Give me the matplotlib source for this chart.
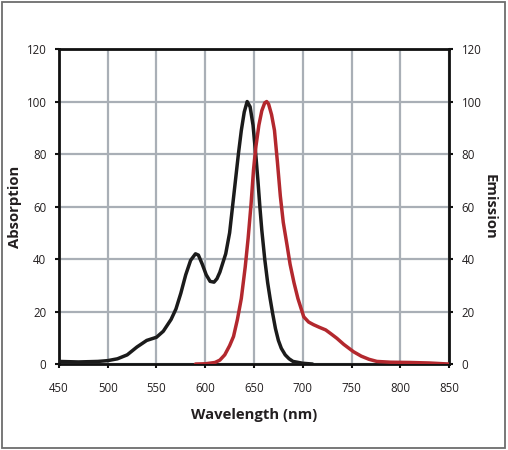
import numpy as np
import matplotlib
matplotlib.use("Agg")
import matplotlib.pyplot as plt
from matplotlib.patches import Rectangle

plt.rcParams["font.family"] = ["Open Sans", "DejaVu Sans"]

# ---- DATA ----
abs_wavelength = [450, 470, 490, 500, 510, 520, 530, 540, 550, 557, 565, 570, 575, 580,
                  585, 590, 593, 597, 601, 605, 609, 612, 615, 618, 621, 625, 628, 631, 634,
                  637, 640, 643, 646, 649, 652, 654, 656, 658, 661, 664, 666.5, 669, 672,
                  675, 678, 682, 686, 690, 700, 710]
abs_value = [1.0, 0.8, 1.0, 1.3, 2.0, 3.5, 6.5, 9.0, 10.2, 12.5, 17, 21, 27, 34,
             39.5, 42, 41.5, 38, 34, 31.5, 31.2, 32.5, 35, 38.5, 42, 50, 60, 70, 80,
             89, 96, 100, 98, 91, 79, 70, 60, 51, 40, 31, 25, 19.5, 13.5,
             9, 6, 3.5, 2, 1, 0.3, 0]

em_wavelength = [590, 600, 610, 615, 620, 625, 629, 633, 637, 641, 644, 647, 649.5, 652,
                 655, 658, 661, 663, 665, 668, 671, 674, 677, 680, 684, 687, 691, 695,
                 701, 706, 711, 717, 723.5, 729, 735, 742, 752, 760, 768, 776, 790, 810,
                 830, 845, 850]
em_value = [0, 0.1, 0.6, 1.5, 3.5, 7, 10.5, 17, 25, 37, 48, 61, 74, 83,
            91, 96.5, 99.5, 100, 99, 95, 89, 77, 64, 54, 45, 38, 31, 25,
            18, 16, 15, 14, 13, 11.5, 9.8, 7.5, 4.7, 3, 1.8, 1.0, 0.7, 0.6,
            0.4, 0.1, 0]

x_ticks = [450, 500, 550, 600, 650, 700, 750, 800, 850]
y_ticks = [0, 20, 40, 60, 80, 100, 120]

TEXT = "#231f20"
GRID = "#a9afb6"

fig = plt.figure(figsize=(5.08, 4.5), dpi=100)
fig.patches.append(Rectangle((0.003, 0.004), 0.991, 0.992, transform=fig.transFigure,
                             fill=False, edgecolor="#6d6d6d", linewidth=1.3))

ax = fig.add_axes([0.116, 0.191, 0.768, 0.700])
ax.set_xlim(450, 850)
ax.set_ylim(0, 120)
ax.set_xticks(x_ticks)
ax.set_yticks(y_ticks)
ax.grid(True, color=GRID, linewidth=1.6)
ax.set_axisbelow(True)

ax.plot(abs_wavelength, abs_value, color="#1b1b1b", linewidth=2.5, solid_capstyle="round",
        solid_joinstyle="round", zorder=3)
ax.plot(em_wavelength, em_value, color="#b3282e", linewidth=2.5, solid_capstyle="round",
        solid_joinstyle="round", zorder=4)

for side in ["left", "right", "top", "bottom"]:
    ax.spines[side].set_linewidth(2.0)
    ax.spines[side].set_color("#111111")

ax.tick_params(axis="both", direction="out", length=3, width=1.5, color="#111111",
               labelsize=8.3, labelcolor=TEXT)
ax.tick_params(axis="x", pad=10)
ax.tick_params(axis="y", pad=6)

ax2 = ax.twinx()
ax2.set_ylim(0, 120)
ax2.set_yticks(y_ticks)
ax2.tick_params(axis="y", direction="out", length=3, width=1.5, color="#111111",
                labelsize=8.3, labelcolor=TEXT, pad=6)
for side in ["left", "right", "top", "bottom"]:
    ax2.spines[side].set_visible(False)

ax.set_xlabel("Wavelength (nm)", fontsize=10.7, fontweight="bold", color=TEXT, labelpad=9)
ax.set_ylabel("Absorption", fontsize=10.7, fontweight="bold", color=TEXT, labelpad=3)
ax2.set_ylabel("Emission", fontsize=10.7, fontweight="bold", color=TEXT, rotation=270,
               labelpad=11)

fig.savefig("out.png", dpi=100)
